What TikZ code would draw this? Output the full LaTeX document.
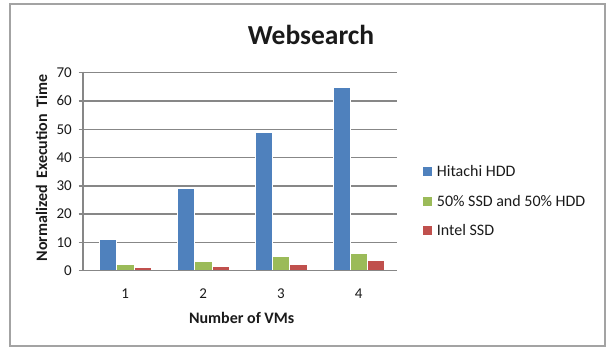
\documentclass[tikz,border=0pt]{standalone}
\usepackage{fontspec}
\setmainfont{Carlito}
\definecolor{sblue}{HTML}{4F81BD}
\definecolor{sgreen}{HTML}{9BBB59}
\definecolor{sred}{HTML}{C0504D}
\definecolor{gridgray}{HTML}{878787}
\definecolor{framegray}{HTML}{A3A3A3}
\definecolor{txt}{HTML}{1A1A1A}
\begin{document}
\begin{tikzpicture}[x=1pt,y=-1pt,
  frame/.style={draw=framegray,line width=2.2pt},
  gridline/.style={draw=gridgray,line width=1.4pt},
  ticklab/.style={font=\fontsize{15}{18}\selectfont,text=txt,inner sep=0pt},
  axtitle/.style={font=\fontsize{16}{19}\selectfont\bfseries,text=txt,inner sep=0pt},
  legtext/.style={font=\fontsize{16}{19}\selectfont,text=txt,inner sep=0pt,anchor=west},
  bar/.style={draw=white,line width=0.4pt}]
\useasboundingbox (0,0) rectangle (608,349);
\draw[frame] (9.8,4) rectangle (605,346.3);
\node[font=\fontsize{27.5}{32}\selectfont\bfseries,text=txt,inner sep=0pt,anchor=base] (title) at (311,44.3) {Websearch};
% gridlines and tick labels
\foreach \v in {1,...,7} {
  \draw[gridline] (78.5,{270.7-28.3*\v}) -- (396.7,{270.7-28.3*\v});
}
\foreach \v/\t in {0/0,1/10,2/20,3/30,4/40,5/50,6/60,7/70} {
  \node[ticklab,anchor=east] (yl\v) at (72,{270.7-28.3*\v}) {\t};
}
% bars
\foreach \i/\b/\g/\r in {0/11.1/2.3/1.1, 1/29.3/3.2/1.5, 2/48.9/5.0/2.4, 3/65.0/6.2/3.6} {
  \pgfmathsetmacro{\xx}{99.3+77.8*\i}
  \fill[sblue,bar] (\xx,270.7) rectangle ({\xx+17.3},{270.7-2.83*\b});
  \fill[sgreen,bar] ({\xx+17.3},270.7) rectangle ({\xx+34.6},{270.7-2.83*\g});
  \fill[sred,bar] ({\xx+34.6},270.7) rectangle ({\xx+51.9},{270.7-2.83*\r});
}
% axes
\draw[gridline] (78.5,270.7) -- (396.7,270.7);
\draw[gridline] (83,71.7) -- (83,270.7);
% category labels
\foreach \i in {1,...,4} {
  \node[ticklab] (xl\i) at ({125.3+77.8*(\i-1)},293.3) {\i};
}
\node[axtitle] (xtitle) at (241.7,318.3) {Number of VMs};
\node[axtitle,rotate=90] (ytitle) at (41.5,168) {Normalized\, Execution\, Time};
% legend
\fill[sblue] (422.5,166.5) rectangle (431.5,175.5);
\fill[sgreen] (422.5,196.5) rectangle (431.5,205.5);
\fill[sred] (422.5,225.5) rectangle (431.5,234.5);
\node[legtext] (l1) at (436.7,171) {Hitachi HDD};
\node[legtext] (l2) at (436.7,201) {50\% SSD and 50\% HDD};
\node[legtext] (l3) at (436.7,230) {Intel SSD};
\end{tikzpicture}
\end{document}
